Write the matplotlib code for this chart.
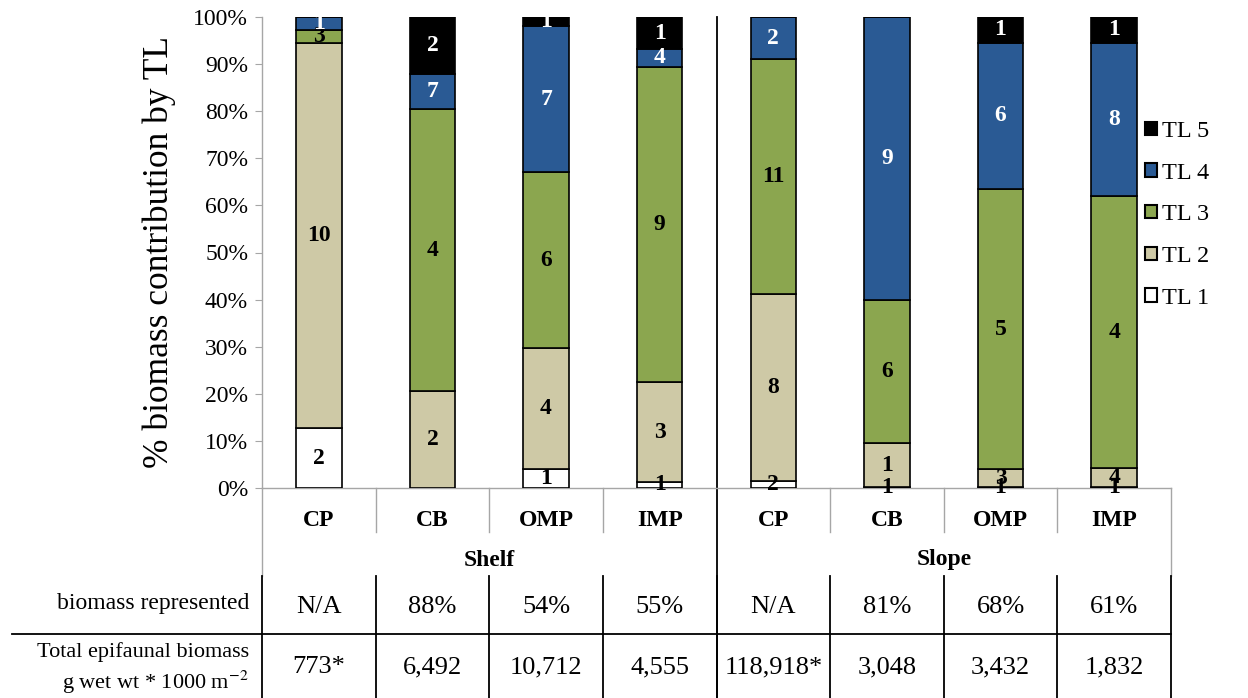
import numpy as np
import matplotlib.pyplot as plt
from matplotlib.patches import Patch
from matplotlib.transforms import blended_transform_factory

plt.rcParams['font.family'] = ['Liberation Serif', 'DejaVu Serif']
plt.rcParams['mathtext.fontset'] = 'stix'

# stations (shelf then slope)
sites = ['CP', 'CB', 'OMP', 'IMP', 'CP', 'CB', 'OMP', 'IMP']
groups = ['Shelf', 'Slope']

# % biomass per trophic level
tl1 = [12.7, 0.0, 4.0, 1.3, 1.5, 0.2, 0.2, 0.2]
tl2 = [81.7, 20.5, 25.8, 21.1, 39.7, 9.3, 3.8, 4.0]
tl3 = [2.8, 60.0, 37.2, 67.0, 49.8, 30.5, 59.5, 57.8]
tl4 = [2.8, 7.5, 31.0, 3.8, 9.0, 60.0, 31.0, 32.5]
tl5 = [0.0, 12.0, 2.0, 6.8, 0.0, 0.0, 5.5, 5.5]

# number of taxa in each segment
n1 = ['2', '', '1', '1', '2', '1', '1', '1']
n2 = ['10', '2', '4', '3', '8', '1', '3', '4']
n3 = ['3', '4', '6', '9', '11', '6', '5', '4']
n4 = ['1', '7', '7', '4', '2', '9', '6', '8']
n5 = ['', '2', '1', '1', '', '', '1', '1']

represented = ['N/A', '88%', '54%', '55%', 'N/A', '81%', '68%', '61%']
total_biomass = ['773*', '6,492', '10,712', '4,555', '118,918*', '3,048', '3,432', '1,832']

levels = [tl1, tl2, tl3, tl4, tl5]
counts = [n1, n2, n3, n4, n5]
names = ['TL 1', 'TL 2', 'TL 3', 'TL 4', 'TL 5']
colors = ['#FFFFFF', '#CEC9A6', '#8BA64F', '#2A5A94', '#000000']
txtcol = ['black', 'black', 'black', 'white', 'white']

W, H = 1248, 698
fig = plt.figure(figsize=(W / 100, H / 100), dpi=100)
ax = fig.add_axes([262 / W, 1 - 488 / H, (1171 - 262) / W, (488 - 17) / H])

x = np.arange(len(sites))
bottom = np.zeros(len(sites))
for vals, labs, c, tc, nm in zip(levels, counts, colors, txtcol, names):
    vals = np.array(vals)
    ax.bar(x, vals, 0.4, bottom=bottom, color=c, edgecolor='black', linewidth=1.2, zorder=3)
    for xi, v, b, lab in zip(x, vals, bottom, labs):
        if lab:
            ax.text(xi, b + v / 2, lab, ha='center', va='center', color=tc,
                    fontsize=17, fontweight='bold', zorder=4)
    bottom += vals

ax.set_xlim(-0.5, len(sites) - 0.5)
ax.set_ylim(0, 100)
ax.set_yticks(np.arange(0, 101, 10))
ax.set_yticklabels(['%d%%' % t for t in range(0, 101, 10)], fontsize=17)
ax.set_xticks([])
ax.tick_params(axis='y', direction='out', length=5, color='#A6A6A6', pad=5)
for s in ['top', 'right']:
    ax.spines[s].set_visible(False)
for s in ['left', 'bottom']:
    ax.spines[s].set_color('#A6A6A6')
    ax.spines[s].set_linewidth(1.0)
ax.set_ylabel('% biomass contribution by TL', fontsize=25.5)
ax.yaxis.set_label_coords(-0.095, 0.5)

# table under the bars: x in data units, y in pixels from the top
tr = blended_transform_factory(ax.transData, fig.transFigure)
def py(p):
    return 1 - p / H

gray = '#A6A6A6'
for b in [0.5, 1.5, 2.5, 4.5, 5.5, 6.5]:
    ax.plot([b, b], [py(488), py(532)], transform=tr, color=gray, lw=1.0, clip_on=False)
ax.plot([-0.5, -0.5], [py(488), py(576)], transform=tr, color=gray, lw=1.0, clip_on=False)
ax.plot([7.5, 7.5], [py(488), py(576)], transform=tr, color=gray, lw=1.0, clip_on=False)
for b in np.arange(-0.5, 8.0, 1.0):
    ax.plot([b, b], [py(576), py(698)], transform=tr, color='black', lw=1.3, clip_on=False)
ax.plot([3.5, 3.5], [py(17), py(698)], transform=tr, color='black', lw=1.3, clip_on=False)
fig.add_artist(plt.Line2D([12 / W, 1171 / W], [py(634), py(634)], color='black', lw=1.3))

for xi, s in zip(x, sites):
    ax.text(xi, py(520), s, transform=tr, ha='center', va='center', fontsize=17, fontweight='bold')
for gi, g in enumerate(groups):
    ax.text(1.5 + 4 * gi, py(560), g, transform=tr, ha='center', va='center', fontsize=17, fontweight='bold')
for xi, r, t in zip(x, represented, total_biomass):
    ax.text(xi, py(607), r, transform=tr, ha='center', va='center', fontsize=19)
    ax.text(xi, py(667), t, transform=tr, ha='center', va='center', fontsize=19)

fig.text(249 / W, py(603), 'biomass represented', ha='right', va='center', fontsize=17)
fig.text(249 / W, py(652), 'Total epifaunal biomass', ha='right', va='center', fontsize=16)
fig.text(249 / W, py(682), 'g wet wt * 1000 m$^{-2}$', ha='right', va='center', fontsize=16)

handles = [Patch(facecolor=c, edgecolor='black', linewidth=1.5) for c in colors][::-1]
fig.legend(handles, names[::-1], loc='upper left', bbox_to_anchor=(1145 / W, py(121)),
           frameon=False, fontsize=17.5, handlelength=0.48, handleheight=0.48,
           handletextpad=0.22, labelspacing=0.85, borderpad=0, borderaxespad=0)

fig.savefig('out.png', dpi=100)
